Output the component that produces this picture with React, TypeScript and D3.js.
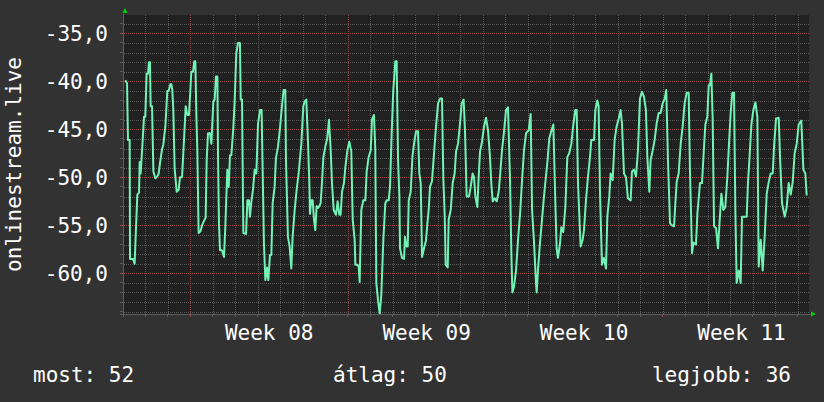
import React from "react";
import * as d3 from "d3";

// ---- data (hours since start, signal in dB) ----
const START = Date.UTC(2014, 1, 14, 0, 0, 0); // Fri 2014-02-14
const SPAN_HOURS = 732;

const seg1: [number, number][] = [[2.5,-39.9],[4.3,-40.2],[5.3,-46.1],[7.1,-46.1],[7.5,-58.5],[10.7,-58.5],[12.4,-59.0],[13.5,-56.2],[15.3,-51.8],[17.1,-51.6],[17.8,-48.4],[18.8,-49.6],[20.6,-46.8],[22.4,-43.7],[23.8,-43.7],[25.2,-39.2],[26.7,-39.2],[27.7,-38.0],[28.8,-38.0],[29.5,-42.6],[31.0,-42.6],[32.4,-49.4],[34.5,-50.1],[36.6,-49.9],[38.1,-49.6],[39.5,-48.5],[41.6,-47.1],[43.0,-46.6],[45.2,-44.7],[47.3,-41.0],[48.7,-41.0],[50.5,-40.3],[51.6,-40.3],[52.6,-40.9],[53.7,-43.0],[55.1,-49.1],[57.3,-51.5],[59.4,-51.3],[60.8,-50.0],[63.0,-50.0],[65.1,-46.1],[66.9,-42.6],[68.6,-43.5],[70.4,-43.5],[71.5,-41.6],[72.9,-39.0],[74.7,-39.0],[76.1,-37.9],[77.2,-37.9],[78.3,-43.6],[79.3,-47.2],[80.7,-55.8],[82.9,-55.6],[84.3,-55.0],[87.1,-54.4],[88.2,-54.2],[89.3,-48.2],[90.7,-45.4],[92.8,-45.4],[94.3,-46.5],[96.4,-42.1],[97.8,-41.9],[99.2,-39.5],[100.7,-39.5],[101.4,-47.9],[102.4,-54.8],[103.5,-57.6],[105.6,-57.6],[107.8,-58.3],[109.2,-55.1],[111.3,-49.2],[112.8,-51.0],[114.2,-47.7],[115.6,-47.7],[117.7,-44.9],[119.2,-41.9],[120.9,-37.1],[122.7,-36.0],[124.8,-36.0],[125.6,-41.9],[127.0,-41.9],[128.4,-55.8],[131.3,-55.9],[132.7,-52.4],[134.4,-52.4],[135.5,-54.1],[137.0,-52.5],[138.7,-51.3],[140.5,-49.2],[142.3,-49.6],[144.1,-44.4]];

const seg2: [number, number][] = [[146.2,-43.0],[147.9,-43.0],[149.0,-49.2],[150.4,-56.9],[151.9,-60.7],[153.6,-59.4],[155.1,-60.7],[156.8,-58.1],[158.3,-58.1],[159.7,-52.7],[161.8,-51.0],[163.2,-48.0],[165.4,-46.8],[167.5,-44.9],[169.6,-42.6],[171.4,-40.9],[173.2,-40.9],[173.9,-48.2],[176.0,-56.2],[177.8,-57.2],[179.6,-59.5],[181.0,-56.2],[183.2,-53.4],[185.3,-51.3],[187.4,-49.6],[190.3,-46.5],[192.4,-42.6],[193.8,-42.1],[195.6,-41.9],[197.4,-46.3],[198.8,-50.5],[199.5,-53.8],[200.9,-52.4],[202.4,-52.4],[203.8,-54.4],[205.2,-55.5],[206.6,-53.0],[208.1,-53.2],[209.5,-53.0],[210.9,-52.7],[212.3,-50.6],[213.8,-47.9],[215.9,-46.8],[218.0,-45.9],[219.8,-44.0],[221.6,-47.1],[223.0,-50.6],[224.8,-53.4],[227.3,-53.9],[229.0,-52.5],[230.8,-53.9],[232.2,-53.9],[233.7,-51.5],[235.8,-50.6],[237.2,-49.0],[239.4,-47.2],[241.5,-46.3],[243.6,-47.3],[245.1,-54.4],[247.2,-56.5],[247.9,-59.1],[250.0,-59.1],[251.5,-59.3],[252.5,-60.9],[254.3,-53.4],[256.4,-52.4],[258.6,-52.4],[260.0,-49.4],[262.1,-47.9],[264.3,-47.2],[265.7,-44.0],[267.8,-43.5],[269.2,-47.1],[270.3,-61.0],[272.1,-62.8],[273.9,-64.2],[275.6,-62.3],[277.8,-56.5],[279.9,-52.7],[281.3,-52.4],[283.5,-52.4],[284.9,-51.0],[286.7,-45.4],[288.4,-40.9],[290.6,-37.9]];

const seg3: [number, number][] = [[292.0,-37.9],[293.5,-48.2],[294.9,-52.0],[295.6,-57.4],[297.7,-58.4],[299.9,-58.5],[300.9,-56.2],[302.4,-57.2],[303.8,-57.2],[304.9,-52.4],[307.0,-51.5],[308.8,-47.9],[310.5,-46.5],[312.7,-45.2],[314.8,-45.2],[316.2,-49.6],[317.7,-50.6],[319.1,-58.3],[321.2,-57.4],[323.3,-56.6],[324.8,-54.8],[326.2,-53.4],[327.6,-51.0],[329.7,-50.4],[331.9,-47.5],[334.0,-44.7],[336.2,-42.3],[338.3,-41.8],[340.4,-41.8],[341.8,-50.1],[343.3,-54.0],[344.3,-59.1],[346.5,-59.4],[347.5,-54.4],[349.7,-53.4],[351.8,-50.6],[353.9,-49.6],[355.4,-47.3],[357.5,-46.5],[359.6,-44.4],[361.4,-42.3],[363.5,-41.9],[365.0,-45.4],[366.7,-52.0],[369.2,-52.0],[371.0,-51.0],[373.1,-49.6],[374.6,-50.0],[376.0,-52.0],[378.1,-53.1],[379.5,-50.0],[381.0,-47.3],[383.1,-46.3],[385.2,-44.7],[387.4,-43.8],[389.5,-45.1],[391.6,-47.9],[393.1,-50.8],[394.5,-52.5],[396.6,-52.2],[398.8,-52.5],[400.9,-51.5],[402.3,-49.9],[404.4,-47.2],[406.6,-45.2],[408.7,-43.0],[410.8,-42.7],[413.0,-50.3],[414.4,-58.0],[415.5,-62.0],[417.2,-61.4],[419.4,-59.7],[421.5,-56.5],[423.7,-53.8],[425.8,-50.3],[427.9,-47.2],[430.1,-45.4],[432.9,-45.1],[435.0,-43.4],[436.5,-53.4],[438.6,-56.8],[440.7,-61.0]];

const seg4: [number, number][] = [[441.4,-62.0],[442.8,-59.7],[444.9,-56.9],[447.1,-54.4],[449.2,-52.0],[451.3,-49.9],[452.8,-48.5],[454.9,-45.9],[457.0,-45.2],[459.2,-44.5],[461.3,-52.5],[462.7,-57.4],[464.1,-58.4],[466.3,-56.9],[467.7,-55.2],[469.8,-55.7],[472.0,-53.1],[474.1,-47.9],[476.2,-47.5],[478.4,-46.5],[480.5,-44.5],[482.6,-43.0],[484.1,-43.0],[485.5,-50.6],[486.9,-54.0],[488.3,-57.2],[490.5,-56.5],[491.9,-55.5],[494.0,-52.4],[496.2,-49.9],[498.3,-47.9],[499.7,-46.1],[502.6,-46.1],[504.0,-43.0],[506.1,-42.0],[507.5,-42.6],[509.0,-51.7],[511.1,-59.1],[513.2,-58.4],[515.4,-59.5],[516.8,-54.1],[518.9,-52.0],[520.3,-49.6],[522.5,-50.3],[524.6,-46.1],[526.7,-44.7],[528.9,-43.9],[531.0,-43.0],[532.4,-44.4],[534.6,-49.6],[536.7,-50.0],[538.8,-52.2],[541.7,-52.4],[543.1,-49.4],[545.2,-49.2],[547.4,-49.9],[549.5,-47.2],[551.6,-41.8],[553.8,-41.1],[555.9,-41.6],[558.0,-43.0],[559.5,-47.9],[561.6,-51.5],[563.0,-48.2],[565.2,-47.2],[567.3,-46.1],[569.4,-44.4],[571.6,-43.3],[573.7,-43.3],[575.8,-42.3],[578.0,-41.8],[579.7,-40.9],[581.5,-48.2],[583.7,-54.8],[585.8,-55.0]];

const seg5: [number, number][] = [[588.0,-55.1],[589.4,-52.7],[590.8,-50.5],[592.9,-49.6],[595.1,-46.5],[597.2,-44.7],[599.4,-42.2],[601.5,-41.2],[603.6,-41.2],[605.0,-49.4],[607.2,-57.9],[608.6,-56.8],[611.4,-57.0],[612.9,-53.8],[615.7,-50.6],[617.8,-50.6],[620.0,-46.8],[621.4,-44.5],[623.5,-43.7],[625.0,-40.4],[626.4,-40.4],[627.8,-39.2],[629.2,-43.9],[630.7,-55.1],[632.8,-55.3],[634.9,-57.4],[636.3,-55.1],[638.5,-51.7],[640.6,-53.4],[642.7,-53.1],[644.9,-49.9],[647.0,-45.8],[648.4,-43.3],[650.2,-41.2],[652.0,-41.2],[653.4,-53.4],[654.8,-61.0],[657.0,-59.7],[659.1,-61.0],[660.5,-54.1],[665.5,-54.1],[666.9,-50.5],[668.4,-48.2],[670.5,-44.5],[672.6,-43.0],[674.8,-42.2],[676.9,-43.7],[678.3,-59.3],[680.5,-56.5],[682.6,-59.7],[684.7,-56.2],[686.9,-51.7],[689.0,-50.5],[691.1,-49.6],[693.3,-49.6],[694.7,-46.8],[696.8,-43.9],[699.7,-43.8],[701.1,-47.9],[703.2,-52.7],[706.1,-54.1],[708.2,-53.1],[710.3,-50.6],[712.5,-51.8],[714.6,-50.5],[716.7,-47.5],[718.9,-46.5],[721.0,-44.5],[723.8,-44.1],[726.0,-49.2],[728.1,-49.6],[729.5,-51.9]];

const Y_MAJOR = [-60, -55, -50, -45, -40, -35];
const Y_TITLE = "onlinestream.live";
const LEGEND_LAST = 52;
const LEGEND_AVG = 50;
const LEGEND_BEST = 36;

const W = 824, H = 402;
const PL = 123, PR = 809, PT = 15, PB = 314;
const FONT = "'DejaVu Sans Mono', monospace";
const LINE = "#72f2b4";
const MINOR = "#585858";
const MAJOR = "#9a4040";

// dotted line made of 1x1 pixel squares (on 1, off 1)
function hDots(yy: number, x0: number, x1: number, step = 2) {
  const r = Math.round(yy);
  return d3.range(x0, x1, step).map((xx) => `M${xx},${r}h1v1h-1z`).join("");
}
function vDots(xx: number, y0: number, y1: number, step = 2) {
  const c = Math.round(xx);
  return d3.range(y0, y1, step).map((yy) => `M${c},${yy}h1v1h-1z`).join("");
}

export default function App() {
  const data = [...seg1, ...seg2, ...seg3, ...seg4, ...seg5].map(
    ([h, v]) => ({ t: new Date(START + h * 3600e3), v })
  );
  const end = new Date(START + SPAN_HOURS * 3600e3);
  const x = d3.scaleUtc().domain([new Date(START), end]).range([PL, PR]);
  const y = d3.scaleLinear().domain([-64.24, -33.09]).range([PB, PT]);

  const days = d3.utcDay.range(new Date(START), end);
  const mondays = d3.utcMonday.range(new Date(START), end);
  const minorY = d3.range(-64, -33, 1).filter((v) => !Y_MAJOR.includes(v));
  const weekFmt = d3.utcFormat("%V");

  const line = d3
    .line<{ t: Date; v: number }>()
    .x((d) => x(d.t))
    .y((d) => y(d.v));

  const fmtY = (v: number) => v.toFixed(1).replace(".", ",");
  const px = (n: number) => Math.round(n) + 0.5;

  const minorPath =
    minorY.map((v) => hDots(y(v), PL + 1, PR)).join("") +
    days.filter((d) => d.getUTCDay() !== 1 && x(d) > PL + 1).map((d) => vDots(x(d), PT, PB)).join("");
  const majorPath =
    Y_MAJOR.map((v) => hDots(y(v), PL + 1, PR)).join("") +
    mondays.map((d) => vDots(x(d), PT, PB)).join("");

  return (
    <svg
      width={W}
      height={H}
      style={{ position: "fixed", left: 0, top: 0, display: "block" }}
    >
      <rect x={0} y={0} width={W} height={H} fill="#323232" />
      <rect x={PL} y={PT} width={PR - PL} height={PB - PT} fill="#212121" />

      <path d={minorPath} fill={MINOR} shapeRendering="crispEdges" />
      <path d={majorPath} fill={MAJOR} shapeRendering="crispEdges" />

      {/* ticks */}
      <g shapeRendering="crispEdges">
        {days.map((d) => (
          <line key={"tx" + +d} y1={PB} y2={PB + 3} x1={px(x(d) - 0.5)} x2={px(x(d) - 0.5)}
            stroke={d.getUTCDay() === 1 ? MAJOR : MINOR} />
        ))}
        {d3.range(-64, -33, 1).map((v) => (
          <line key={"ty" + v} x1={PL - 3} x2={PL} y1={px(y(v) - 0.5)} y2={px(y(v) - 0.5)}
            stroke={Y_MAJOR.includes(v) ? MAJOR : MINOR} />
        ))}
      </g>

      {/* data line */}
      <path d={line(data) || ""} fill="none" stroke={LINE} strokeWidth={2}
        strokeLinejoin="round" />

      {/* axes */}
      <g shapeRendering="crispEdges">
        <line x1={PL - 3} x2={PR + 2} y1={PB + 0.5} y2={PB + 0.5} stroke="#5e5e5e" />
        <line x1={PL + 0.5} x2={PL + 0.5} y1={PT - 1} y2={PB + 3} stroke="#5e5e5e" />
      </g>
      <polygon points={`${PL - 0.5},13 ${PL + 4.5},13 ${PL + 2},8`} fill="#00d000" />
      <polygon points={`${PR + 2},311.5 ${PR + 2},316.5 ${PR + 7},314`} fill="#00d000" />

      {/* y labels */}
      {Y_MAJOR.map((v) => (
        <text key={"yl" + v} x={108} y={y(v)} dy="0.36em" textAnchor="end"
          fill="#ffffff" fontFamily={FONT} fontSize={21}>{fmtY(v)}</text>
      ))}
      {/* x labels */}
      {mondays.map((d) => (
        <text key={"xl" + +d} x={x(new Date(+d + 3.5 * 864e5))} y={339.5} textAnchor="middle"
          fill="#ffffff" fontFamily={FONT} fontSize={21}>{"Week " + weekFmt(d)}</text>
      ))}
      {/* y title */}
      <text transform={`translate(21,${(PT + PB) / 2}) rotate(-90)`} textAnchor="middle"
        fill="#ffffff" fontFamily={FONT} fontSize={21}>{Y_TITLE}</text>

      {/* legend */}
      <text x={33} y={382} fill="#ffffff" fontFamily={FONT} fontSize={21}>{`most: ${LEGEND_LAST}`}</text>
      <text x={333} y={382} fill="#ffffff" fontFamily={FONT} fontSize={21}>{`átlag: ${LEGEND_AVG}`}</text>
      <text x={791} y={382} textAnchor="end" fill="#ffffff" fontFamily={FONT} fontSize={21}>{`legjobb: ${LEGEND_BEST}`}</text>
    </svg>
  );
}
